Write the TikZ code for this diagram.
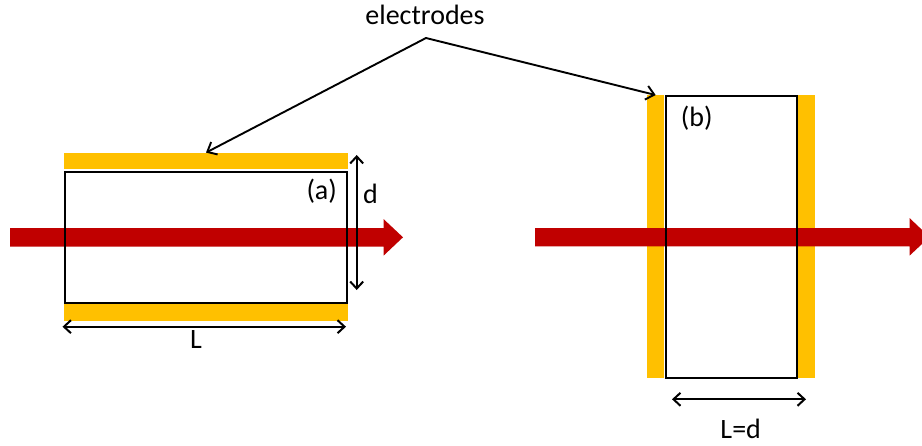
\documentclass[tikz,border=0pt]{standalone}
\usepackage{fontspec}
\setmainfont{Carlito}
\usetikzlibrary{arrows.meta}
\definecolor{elec}{HTML}{FFC000}
\definecolor{beam}{HTML}{C00000}
\tikzset{
  bar/.style={fill=elec, draw=none, inner sep=0pt, outer sep=0pt},
  cell/.style={draw=black, line width=2.2pt, inner sep=0pt, outer sep=0pt},
  lbl/.style={inner sep=0pt, font=\fontsize{28}{32}\selectfont},
  pointer/.style={line width=1.9pt, line cap=round, -{Straight Barb[length=8pt,width=14pt]}},
  dimen/.style={line width=2pt, {Straight Barb[length=7pt,width=13pt]}-{Straight Barb[length=7pt,width=13pt]}},
  beamcol/.style={fill=beam}
}
\begin{document}
\begin{tikzpicture}[x=1pt,y=-1pt]
\useasboundingbox (0,0) rectangle (922,445);
\clip (0,0) rectangle (922,445);
\fill[white] (0,0) rectangle (922,445);
% electrodes (a)
\node[bar, minimum width=283.5pt, minimum height=16.8pt] (ta) at (206,161) {};
\node[bar, minimum width=283.5pt, minimum height=16.8pt] (ba) at (206,312.3) {};
% electrodes (b)
\node[bar, minimum width=16.8pt, minimum height=283.3pt] (lb) at (655.7,236.7) {};
\node[bar, minimum width=16.8pt, minimum height=283.3pt] (rb) at (806.7,236.7) {};
% beams
\fill[beamcol] (10,228) -- (383.5,228) -- (383.5,219) -- (403,237.3) -- (383.5,255.7) -- (383.5,246.7) -- (10,246.7) -- cycle;
\fill[beamcol] (535,228) -- (909.5,228) -- (909.5,218) -- (929.5,237) -- (909.5,255.7) -- (909.5,246.3) -- (535,246.3) -- cycle;
% cells
\node[cell, minimum width=282pt, minimum height=131pt] (ca) at (206.3,237.5) {};
\node[cell, minimum width=131pt, minimum height=282.5pt] (cb) at (731.2,237) {};
% labels
\node[lbl] (el) at (425,15) {electrodes};
\node[lbl] (la) at (321.7,191.5) {(a)};
\node[lbl] (lbb) at (696.7,118) {(b)};
\node[lbl] (ld) at (370.5,194) {d};
\node[lbl] (lL) at (196,340) {L};
\node[lbl] (lLd) at (740.7,429) {L=d};
% pointers
\coordinate (apex) at (426,38);
\draw[pointer] (apex) -- (ta.north);
\draw[pointer] (apex) -- (lb.north);
% dimensions
\coordinate (d1) at (356.7,155);
\coordinate (d2) at (356.7,290);
\coordinate (L1) at (62.5,326.7);
\coordinate (L2) at (346,326.7);
\coordinate (Ld1) at (672,399.3);
\coordinate (Ld2) at (806,399.3);
\draw[dimen] (d1) -- (d2);
\draw[dimen] (L1) -- (L2);
\draw[dimen] (Ld1) -- (Ld2);
\end{tikzpicture}
\end{document}
